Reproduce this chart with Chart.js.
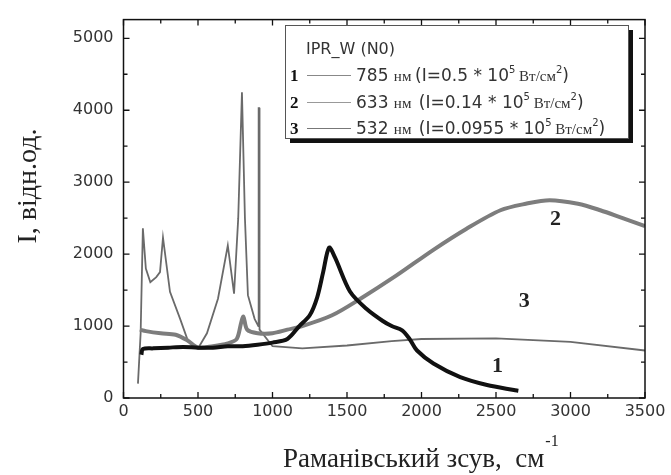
<!DOCTYPE html>
<html>
<head>
<meta charset="utf-8">
<script src="https://cdn.jsdelivr.net/npm/chart.js@4"></script>
<style>
  html, body { margin: 0; padding: 0; background: #fff; }
  #c { display: block; }
</style>
</head>
<body>
<canvas id="c" width="671" height="475"></canvas>
<script>
/* Raman spectra, IPR_W (N0) — three excitation wavelengths */

// axis ticks
const X_TICKS = [0, 500, 1000, 1500, 2000, 2500, 3000, 3500];
const Y_TICKS = [0, 1000, 2000, 3000, 4000, 5000];

// series 1: 785 nm
const S1_X = [120, 130, 200, 300, 400, 500, 600, 700, 800, 900, 1000, 1100, 1180, 1250, 1300, 1340, 1380, 1420, 1520, 1630, 1740, 1800, 1870, 1920, 1970, 2080, 2260, 2440, 2620, 2650];
const S1_Y = [600, 680, 690, 700, 710, 700, 700, 720, 720, 740, 770, 820, 1000, 1150, 1400, 1750, 2090, 1950, 1480, 1240, 1070, 1000, 940, 820, 660, 480, 290, 180, 110, 100];

// series 2: 633 nm
const S2_X = [110, 150, 250, 350, 430, 500, 600, 700, 760, 790, 805, 830, 900, 1000, 1100, 1200, 1400, 1590, 1830, 2080, 2300, 2530, 2700, 2860, 3050, 3200, 3350, 3500];
const S2_Y = [950, 930, 900, 880, 800, 700, 720, 760, 820, 1050, 1130, 950, 900, 900, 950, 1000, 1150, 1380, 1700, 2060, 2350, 2610, 2700, 2750, 2700, 2610, 2500, 2390];

// series 3: 532 nm
const S3_X = [97, 115, 130, 150, 180, 220, 245, 265, 312, 380, 433, 500, 560, 634, 700, 742, 770, 795, 815, 835, 880, 905, 907, 911, 913, 1000, 1200, 1500, 1800, 2000, 2500, 3000, 3500];
const S3_Y = [200, 900, 2360, 1800, 1610, 1680, 1750, 2230, 1475, 1100, 790, 690, 900, 1380, 2120, 1450, 2500, 4250, 2500, 1430, 1100, 1000, 4030, 4030, 950, 720, 690, 730, 790, 820, 830, 780, 660];

// curve number labels (data coords)
const CURVE_NUMS = ['1', '2', '3'];
const NUM_X = [2510, 2900, 2690];
const NUM_Y = [440, 2490, 1340];

// legend texts
const LEGEND_TITLE = 'IPR_W (N0)';
const LEGEND_WAVE = ['785', '633', '532'];
const LEGEND_INT = ['0.5', '0.14', '0.0955'];

const SANS = "'DejaVu Sans', Verdana, sans-serif";
const SERIF = "'Liberation Serif', 'Times New Roman', serif";

function pts(xs, ys) {
  return xs.map((x, i) => ({ x, y: ys[i] }));
}

/* frame with inward ticks on all four sides */
const framePlugin = {
  id: 'frame',
  afterDraw(chart) {
    const { ctx, chartArea: a, scales: { x, y } } = chart;
    ctx.save();
    ctx.strokeStyle = '#111';
    ctx.lineWidth = 1.5;
    ctx.strokeRect(a.left, a.top, a.right - a.left, a.bottom - a.top);
    ctx.lineWidth = 1.3;
    ctx.beginPath();
    for (let v = 0; v <= 3500; v += 250) {
      const px = x.getPixelForValue(v);
      const len = v % 500 === 0 ? 6 : 4;
      ctx.moveTo(px, a.bottom); ctx.lineTo(px, a.bottom - len);
      ctx.moveTo(px, a.top); ctx.lineTo(px, a.top + len);
    }
    for (let v = 0; v <= 5000; v += 500) {
      const py = y.getPixelForValue(v);
      const len = v % 1000 === 0 ? 6 : 4;
      ctx.moveTo(a.left, py); ctx.lineTo(a.left + len, py);
      ctx.moveTo(a.right, py); ctx.lineTo(a.right - len, py);
    }
    ctx.stroke();
    ctx.restore();
  }
};

/* draw a run of mixed-font text; sup segments are raised */
function richText(ctx, x, y, segs) {
  segs.forEach(s => {
    ctx.font = s.font;
    ctx.fillText(s.t, x, s.sup ? y - 8 : y);
    x += ctx.measureText(s.t).width;
  });
}

/* titles, curve numbers, legend box */
const annotPlugin = {
  id: 'annot',
  afterDraw(chart) {
    const { ctx, scales: { x, y } } = chart;
    ctx.save();
    ctx.fillStyle = '#222';

    // y title
    ctx.save();
    ctx.translate(29, 186);
    ctx.rotate(-Math.PI / 2);
    ctx.font = '28px ' + SERIF;
    ctx.textAlign = 'center';
    ctx.textBaseline = 'middle';
    ctx.fillText('I, відн.од.', 0, 0);
    ctx.restore();

    // x title
    ctx.textBaseline = 'alphabetic';
    ctx.font = '27px ' + SERIF;
    const xt = 'Раманівський зсув,  см';
    const w = ctx.measureText(xt).width;
    const x0 = 283;
    ctx.fillText(xt, x0, 467);
    ctx.font = '16px ' + SERIF;
    ctx.fillText('-1', x0 + w + 1, 446);

    // curve numbers
    ctx.font = 'bold 22px ' + SERIF;
    ctx.textAlign = 'center';
    ctx.textBaseline = 'middle';
    CURVE_NUMS.forEach((n, i) => {
      ctx.fillText(n, x.getPixelForValue(NUM_X[i]), y.getPixelForValue(NUM_Y[i]));
    });

    // legend box with drop shadow
    const bx = 285, by = 25, bw = 343, bh = 113;
    ctx.fillStyle = '#111';
    ctx.fillRect(bx + 5, by + 5, bw, bh);
    ctx.fillStyle = '#fff';
    ctx.fillRect(bx, by, bw, bh);
    ctx.strokeStyle = '#555';
    ctx.lineWidth = 1;
    ctx.strokeRect(bx + 0.5, by + 0.5, bw, bh);

    ctx.textAlign = 'left';
    ctx.textBaseline = 'alphabetic';
    ctx.fillStyle = '#333';
    ctx.font = '16px ' + SANS;
    ctx.fillText(LEGEND_TITLE, 306, 54);

    const rowY = [81, 108, 134];
    const lineCol = ['#888', '#999', '#777'];
    rowY.forEach((ry, i) => {
      ctx.fillStyle = '#111';
      ctx.font = 'bold 17px ' + SERIF;
      ctx.fillText(CURVE_NUMS[i], 290, ry);
      ctx.strokeStyle = lineCol[i];
      ctx.lineWidth = 1;
      ctx.beginPath();
      ctx.moveTo(307, ry - 5.5);
      ctx.lineTo(351, ry - 5.5);
      ctx.stroke();
      ctx.fillStyle = '#333';
      const gap = i === 0 ? ' ' : '  ';
      richText(ctx, 356, ry, [
        { t: LEGEND_WAVE[i] + ' ', font: '17px ' + SANS },
        { t: 'нм' + gap, font: '15px ' + SERIF },
        { t: '(I=' + LEGEND_INT[i] + ' * 10', font: '17px ' + SANS },
        { t: '5', font: '10px ' + SANS, sup: true },
        { t: ' Вт/см', font: '15px ' + SERIF },
        { t: '2', font: '10px ' + SANS, sup: true },
        { t: ')', font: '17px ' + SANS }
      ]);
    });
    ctx.restore();
  }
};

new Chart(document.getElementById('c'), {
  type: 'line',
  data: {
    datasets: [
      { label: '785 нм', data: pts(S1_X, S1_Y), borderColor: '#111', borderWidth: 4, pointRadius: 0, tension: 0.3, order: 1 },
      { label: '633 нм', data: pts(S2_X, S2_Y), borderColor: '#7d7d7d', borderWidth: 4, pointRadius: 0, tension: 0.3, order: 2 },
      { label: '532 нм', data: pts(S3_X, S3_Y), borderColor: '#6a6a6a', borderWidth: 1.8, pointRadius: 0, tension: 0, order: 3 }
    ]
  },
  options: {
    responsive: false,
    animation: false,
    devicePixelRatio: 1,
    layout: { padding: { top: 13, right: 26, left: 0, bottom: 0 } },
    plugins: { legend: { display: false }, tooltip: { enabled: false } },
    scales: {
      x: {
        type: 'linear',
        min: 0,
        max: 3500,
        afterBuildTicks: s => { s.ticks = X_TICKS.map(v => ({ value: v })); },
        afterFit: s => { s.height = 77; },
        grid: { display: false, drawTicks: false },
        border: { display: false },
        ticks: { color: '#333', font: { family: SANS, size: 16 }, padding: 4, maxRotation: 0, autoSkip: false, callback: v => String(v) }
      },
      y: {
        type: 'linear',
        min: 0,
        max: 5260,
        afterBuildTicks: s => { s.ticks = Y_TICKS.map(v => ({ value: v })); },
        afterFit: s => { s.width = 123.5; },
        grid: { display: false, drawTicks: false },
        border: { display: false },
        ticks: { color: '#333', font: { family: SANS, size: 16 }, padding: 10, callback: v => String(v) }
      }
    }
  },
  plugins: [framePlugin, annotPlugin]
});
</script>
</body>
</html>
